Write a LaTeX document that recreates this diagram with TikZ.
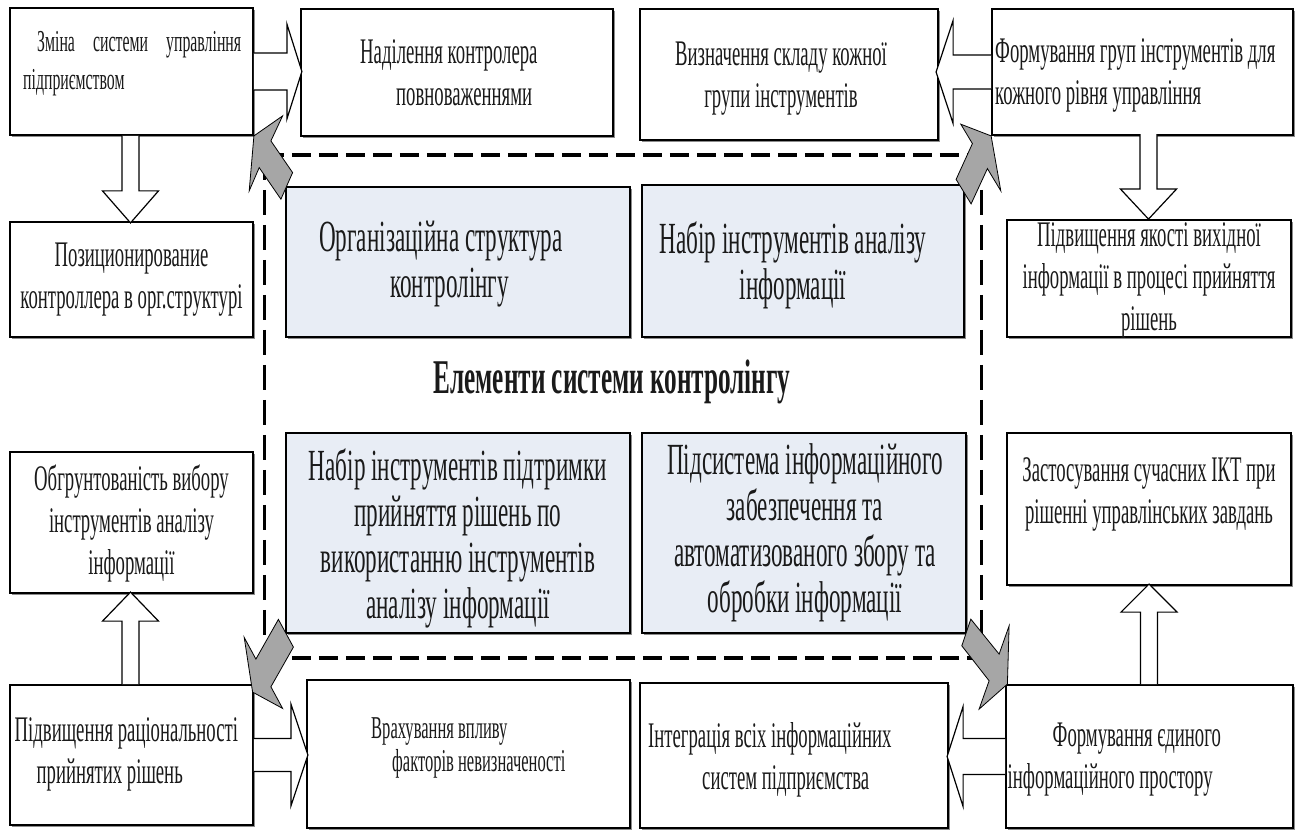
\documentclass[tikz,border=0pt]{standalone}
\usepackage{fontspec}
\setmainfont{Liberation Serif}[FakeStretch=0.52]
\usetikzlibrary{shadows}

\definecolor{panelfill}{HTML}{E8EDF5}
\definecolor{arrowgray}{HTML}{A6A6A6}
\definecolor{ink}{HTML}{1A1A1A}

\tikzset{
  box/.style={draw=black, line width=1.8pt, fill=white, inner sep=0pt,
    drop shadow={shadow xshift=1.8pt, shadow yshift=-1.8pt, fill=black!45, opacity=1}},
  panel/.style={box, fill=panelfill},
  txt/.style={text=ink, inner sep=0pt, align=center, font=\fontsize{36}{42}\selectfont},
  ltxt/.style={txt, align=left, anchor=west},
  ptxt/.style={txt, font=\fontsize{44.5}{46}\selectfont},
  hollow/.style={draw=black, line width=1.2pt, fill=white, line join=miter},
  solidarrow/.style={draw=black, line width=0.8pt, fill=arrowgray, line join=miter},
  dashh/.style={line width=4.5pt, dash pattern=on 19pt off 8pt},
  dashv/.style={line width=3pt, dash pattern=on 25pt off 10pt},
}

\begin{document}
\begin{tikzpicture}[x=1pt, y=-1pt]
\useasboundingbox (0,0) rectangle (1298,834);

% dashed frame around the four core elements
\node[minimum width=716pt, minimum height=503pt, inner sep=0pt] (frame) at (623,406.5) {};
\draw[dashv] (frame.north west) -- (frame.south west);
\draw[dashv] (frame.north east) -- (frame.south east);
\draw[dashh] (frame.north west) -- (frame.north east);
\draw[dashh] (frame.south west) -- (frame.south east);

% outer boxes
\node[box, minimum width=243pt, minimum height=127pt] (b1) at (131.5,71.5) {};
\node[box, minimum width=312pt, minimum height=127pt] (b2) at (457,72.5) {};
\node[box, minimum width=298pt, minimum height=131pt] (b3) at (789,74.5) {};
\node[box, minimum width=301pt, minimum height=126pt] (b4) at (1142.5,72) {};
\node[box, minimum width=243pt, minimum height=115pt] (b5) at (131.5,279.5) {};
\node[box, minimum width=284pt, minimum height=117pt] (b6) at (1149,278.5) {};
\node[box, minimum width=243pt, minimum height=141pt] (b7) at (131.5,522.5) {};
\node[box, minimum width=284pt, minimum height=152pt] (b8) at (1149,509) {};
\node[box, minimum width=243pt, minimum height=140pt] (b9) at (131.5,755) {};
\node[box, minimum width=323pt, minimum height=148pt] (b10) at (468.5,754) {};
\node[box, minimum width=308pt, minimum height=145pt] (b11) at (794,755.5) {};
\node[box, minimum width=287pt, minimum height=143pt] (b12) at (1149.5,756.5) {};

% core elements
\node[panel, minimum width=344pt, minimum height=150pt] (g1) at (458,262) {};
\node[panel, minimum width=322pt, minimum height=152pt] (g2) at (803,261) {};
\node[panel, minimum width=344pt, minimum height=200pt] (g3) at (458,533) {};
\node[panel, minimum width=324pt, minimum height=200pt] (g4) at (804,533) {};

% texts of the outer boxes
\node[ltxt, font=\fontsize{30.4}{38}\selectfont] (t1) at (23,63.5)
  {\hspace*{14pt}\makebox[204pt][s]{Зміна системи управління}\\підприємством};
\node[ltxt] (t2) at (360,72.5) {Наділення контролера\\\hspace*{36pt}повноваженнями};
\node[txt] (t3) at (781,79) {Визначення складу кожної\\групи інструментів};
\node[ltxt] (t4) at (995,75.5) {Формування груп інструментів для\\кожного рівня управління};
\node[txt] (t5) at (131.5,279.5) {Позиционирование\\контроллера в орг.структурі};
\node[txt] (t6) at (1149,280.5) {Підвищення якості вихідної\\інформації в процесі прийняття\\рішень};
\node[txt] (t7) at (131.5,523.5) {Обгрунтованість вибору\\інструментів аналізу\\інформації};
\node[txt] (t8) at (1149,494.5) {Застосування сучасних ІКТ при\\рішенні управлінських завдань};
\node[ltxt] (t9) at (14.5,754.5) {Підвищення раціональності\\\hspace*{22pt}прийнятих рішень};
\node[ltxt, font=\fontsize{31.8}{33}\selectfont] (t10) at (371,748)
  {Врахування впливу\\\hspace*{21pt}факторів невизначеності};
\node[ltxt] (t11) at (648,759.5) {Інтеграція всіх інформаційних\\\hspace*{54pt}систем підприємства};
\node[ltxt] (t12) at (1007.5,759.5) {\hspace*{45pt}Формування єдиного\\інформаційного простору};

% texts of the core elements
\node[ptxt, align=left, anchor=west] (tg1) at (319,264) {Організаційна структура\\\hspace*{71pt}контролінгу};
\node[ptxt] (tg2) at (793,265) {Набір інструментів аналізу\\інформації};
\node[ptxt] (tg3) at (458,538) {Набір інструментів підтримки\\прийняття рішень по\\використанню інструментів\\аналізу інформації};
\node[ptxt] (tg4) at (805,533) {Підсистема інформаційного\\забезпечення та\\автоматизованого збору та\\обробки інформації};

% heading in the middle
\node[anchor=base, inner sep=0pt, text=ink, font=\fontsize{48.5}{50}\selectfont\bfseries] (title) at (612,393)
  {Елементи системи контролінгу};

% hollow block arrows between outer boxes
\filldraw[hollow] (b1.east) ++(0,-18.5) -- ++(33,0) -- ++(0,-29) -- ++(15,47.5) -- ++(-15,47.5) -- ++(0,-29) -- ++(-33,0);
\filldraw[hollow] (b4.west) ++(0,-17) -- ++(-38,0) -- ++(0,-34.5) -- ++(-17,51.5) -- ++(17,51.5) -- ++(0,-34.5) -- ++(38,0);
\filldraw[hollow] (b9.east) ++(0,-16.5) -- ++(37,0) -- ++(0,-34.5) -- ++(17,51) -- ++(-17,51) -- ++(0,-34.5) -- ++(-37,0);
\filldraw[hollow] (b12.west) ++(0,-18) -- ++(-42,0) -- ++(0,-32) -- ++(-16,50) -- ++(16,50) -- ++(0,-32) -- ++(42,0);
\filldraw[hollow] (b1.south) ++(-9.5,0) -- ++(0,55) -- ++(-19.5,0) -- ++(28,32) -- ++(28,-32) -- ++(-19.5,0) -- ++(0,-55);
\filldraw[hollow] (b6.north) ++(-9,-85) -- ++(0,55) -- ++(-19.5,0) -- ++(28,30) -- ++(28,-30) -- ++(-19.5,0) -- ++(0,-55);
\filldraw[hollow] (b9.north) ++(-9.5,0) -- ++(0,-63) -- ++(-19.5,0) -- ++(28,-29) -- ++(28,29) -- ++(-19.5,0) -- ++(0,63);
\filldraw[hollow] (b12.north) ++(-9,0) -- ++(0,-72) -- ++(-19.5,0) -- ++(28,-28) -- ++(28,28) -- ++(-19.5,0) -- ++(0,72);

% grey arrows from the core frame to the corner boxes
\filldraw[solidarrow] (b1.south east) -- +(28.7,-20) -- +(17,5) -- +(38.7,36.7) -- +(27,63.3) -- +(5.3,31.7) -- +(-4.7,55) -- cycle;
\filldraw[solidarrow] (b4.south west) -- +(9.7,55) -- +(-3.7,32.7) -- +(-20,68) -- +(-35,43.5) -- +(-18.7,7.7) -- +(-30.3,-11.7) -- cycle;
\filldraw[solidarrow] (b9.north east) ++(-1.3,8) -- +(30,16.3) -- +(18.3,-5.3) -- +(40.8,-45) -- +(25.8,-72.7) -- +(3.3,-33) -- +(-8.4,-54.7) -- cycle;
\filldraw[solidarrow] (b12.north west) ++(2.3,0) -- +(1.7,-58.3) -- +(-8.3,-30) -- +(-36.6,-65) -- +(-45.6,-38.3) -- +(-18.3,-3.3) -- +(-28.3,25) -- cycle;
\end{tikzpicture}
\end{document}
